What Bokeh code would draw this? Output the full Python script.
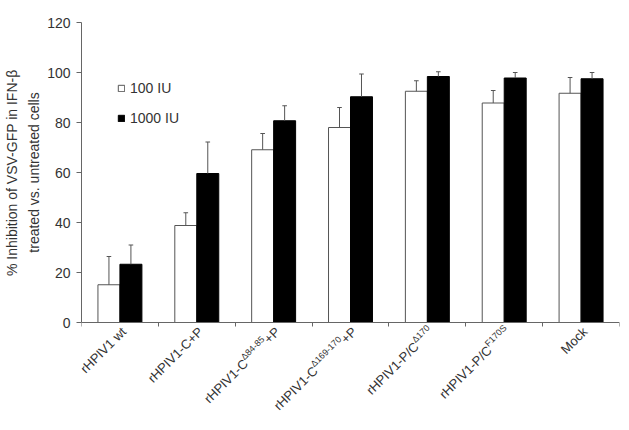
from math import pi
from bokeh.plotting import figure
from bokeh.models import Range1d, FixedTicker, Label, Legend, LegendItem, Title
from bokeh.embed import file_html
from bokeh.resources import INLINE

# ---- data ----
label_main = ["rHPIV1 wt", "rHPIV1-C+P", "rHPIV1-C", "rHPIV1-C", "rHPIV1-P/C", "rHPIV1-P/C", "Mock"]
label_sup = ["", "", "Δ84-85", "Δ169-170", "Δ170", "F170S", ""]
label_tail = ["", "", "+P", "+P", "", "", ""]
series_names = ["100 IU", "1000 IU"]
v100 = [15.1, 38.8, 69.1, 78.0, 92.5, 87.8, 91.7]
e100 = [11.3, 5.1, 6.5, 8.0, 4.2, 5.0, 6.3]
v1000 = [23.3, 59.6, 80.7, 90.3, 98.4, 97.8, 97.5]
e1000 = [7.7, 12.6, 6.0, 9.1, 1.9, 2.2, 2.5]
y_ticks = [0, 20, 40, 60, 80, 100, 120]
y_title = ["% Inhibition of VSV-GFP in IFN-β", "treated vs. untreated cells"]

FONT = "Liberation Sans"
TXT = "#333333"
AX = "#666666"
n = len(label_main)

# layout: the frame also covers the strip under the axis, where the rotated labels go
FRAME_W = 538
PLOT_H = 300          # pixels from 0 to 120
FRAME_H = 396
YMAX = 120
ymin = -(FRAME_H - PLOT_H) * YMAX / PLOT_H

p = figure(frame_width=FRAME_W, frame_height=FRAME_H, x_range=Range1d(0, n),
           y_range=Range1d(ymin, YMAX), output_backend="svg", toolbar_location=None,
           min_border_left=0, min_border_right=1, min_border_top=22, min_border_bottom=0)
p.xgrid.visible = False
p.ygrid.visible = False
p.outline_line_color = None

bw = 0.286
x100 = [i + 0.5 - bw / 2 for i in range(n)]
x1000 = [i + 0.5 + bw / 2 for i in range(n)]

r100 = p.vbar(x=x100, top=v100, bottom=0, width=bw, fill_color="white",
              line_color="#555555", line_width=1)
r1000 = p.vbar(x=x1000, top=v1000, bottom=0, width=bw, fill_color="black",
               line_color="black", line_width=1)

cap = 0.03
for xs, vs, es in ((x100, v100, e100), (x1000, v1000, e1000)):
    ups = [v + e for v, e in zip(vs, es)]
    p.segment(x0=xs, y0=vs, x1=xs, y1=ups, line_color="#555555", line_width=1)
    p.segment(x0=[x - cap for x in xs], y0=ups, x1=[x + cap for x in xs], y1=ups,
              line_color="#555555", line_width=1)

# axes
p.yaxis.ticker = FixedTicker(ticks=y_ticks)
p.yaxis.bounds = (0, YMAX)
p.yaxis.minor_tick_line_color = None
p.yaxis.major_tick_in = 0
p.yaxis.major_tick_out = 5
p.yaxis.axis_line_color = AX
p.yaxis.major_tick_line_color = AX
p.yaxis.major_label_text_font = FONT
p.yaxis.major_label_text_font_size = "14px"
p.yaxis.major_label_text_color = TXT
p.yaxis.major_label_standoff = 6

p.xaxis.fixed_location = 0
p.xaxis.ticker = FixedTicker(ticks=list(range(n + 1)))
p.xaxis.minor_tick_line_color = None
p.xaxis.major_tick_in = 0
p.xaxis.major_tick_out = 4
p.xaxis.axis_line_color = AX
p.xaxis.major_tick_line_color = AX
p.xaxis.major_label_overrides = {i: "" for i in range(n + 1)}
p.xaxis.major_label_standoff = 0

CW = {'r': .333, 'H': .722, 'P': .667, 'I': .278, 'V': .667, '-': .333, 'C': .722,
      '+': .584, '/': .278, ' ': .278, 'w': .722, 't': .278, 'M': .833, 'o': .556,
      'c': .5, 'k': .5, 'Δ': .668, 'F': .611, 'S': .667, '%': .889, 'n': .556,
      'h': .556, 'i': .222, 'b': .556, 'f': .278, 'G': .778, 'N': .722, 'β': .556,
      'e': .556, 'a': .556, 'd': .556, 'v': .5, 's': .5, '.': .278, 'u': .556, 'l': .222}


def tw(s, size):
    return sum(CW.get(ch, .556) for ch in s) * size


# y title (two lines) as side titles, centred on the 0..120 span of the axis
TITLE_SIZE = 14
title_centre_from_bottom = (FRAME_H - PLOT_H) + PLOT_H / 2
for k, line in enumerate(reversed(y_title)):
    off = title_centre_from_bottom - tw(line, TITLE_SIZE) / 2
    p.add_layout(Title(text=line, align="left", offset=off, text_font=FONT,
                       text_font_size=f"{TITLE_SIZE}px", text_font_style="normal",
                       text_color=TXT, standoff=6 if k == 0 else 2), "left")

# legend
LEG_TOP, LEG_H = 58, 46
legend = Legend(items=[LegendItem(label=series_names[0], renderers=[r100]),
                       LegendItem(label=series_names[1], renderers=[r1000])],
                location=(36, FRAME_H - LEG_TOP - LEG_H), glyph_width=8, glyph_height=8,
                label_height=16, spacing=14, padding=0, margin=0, border_line_color=None,
                background_fill_alpha=0, label_text_font=FONT,
                label_text_font_size="14px", label_text_color=TXT, label_standoff=5)
p.add_layout(legend, "center")

# x category labels, rotated 45 deg, with superscripts
MAIN, SUP, RAISE = 13, 9, 4.5
c = 0.70711
ax, ay = 4, -7  # end of each label, relative to (category centre, axis); y up
for i in range(n):
    pieces = [(label_main[i], MAIN, 0), (label_sup[i], SUP, RAISE), (label_tail[i], MAIN, 0)]
    pieces = [pc for pc in pieces if pc[0]]
    d = 0.0
    for txt, size, r in reversed(pieces):
        p.add_layout(Label(x=i + 0.5, y=0, x_offset=ax - d * c - r * c,
                           y_offset=ay - d * c + r * c, text=txt, angle=pi / 4,
                           text_align="right", text_baseline="middle", text_font=FONT,
                           text_font_size=f"{size}px", text_color=TXT))
        d += tw(txt, size)

open("out.html", "w").write(file_html(p, INLINE))
